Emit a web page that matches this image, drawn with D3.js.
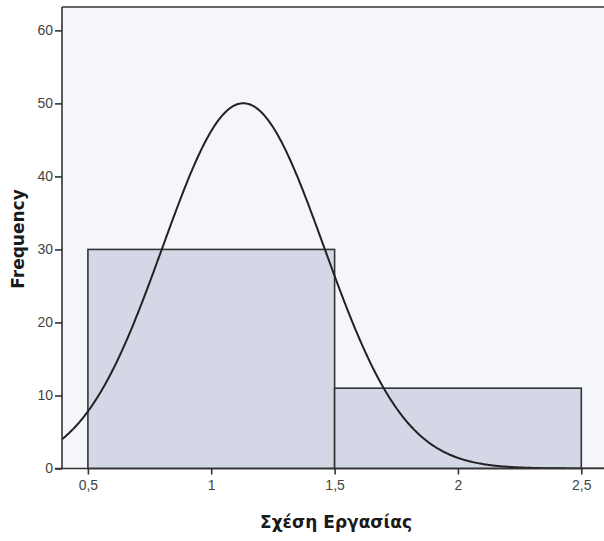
<!DOCTYPE html>
<html>
<head>
<meta charset="utf-8">
<script src="https://cdn.jsdelivr.net/npm/d3@7"></script>
<style>
  html, body { margin: 0; padding: 0; background: #ffffff; }
  svg { display: block; }
</style>
</head>
<body>
<script>
// Histogram bins (lower edge, upper edge) and their frequencies
const binStarts = [0.5, 1.5];
const binEnds = [1.5, 2.5];
const frequencies = [30, 11];

// Normal curve fitted to the sample
const sampleMean = 1.13;
const sampleSd = 0.327;
const sampleN = 41;
const binWidth = 1;

// Axis ticks
const xTicks = [0.5, 1, 1.5, 2, 2.5];
const xTickLabels = ["0,5", "1", "1,5", "2", "2,5"];
const yTicks = [0, 10, 20, 30, 40, 50, 60];

const W = 604, H = 541;
const plot = { left: 62, top: 7, right: 604, bottom: 468.5 };

const svg = d3.select("body").append("svg")
  .attr("width", W).attr("height", H);

const x = d3.scaleLinear().domain([0.395, 2.592]).range([plot.left, plot.right]);
const y = d3.scaleLinear().domain([0, 63.2]).range([plot.bottom, plot.top]);

// plot background
svg.append("rect")
  .attr("x", plot.left).attr("y", plot.top)
  .attr("width", plot.right - plot.left).attr("height", plot.bottom - plot.top)
  .attr("fill", "#f4f6fa");

svg.append("defs").append("clipPath").attr("id", "plotClip")
  .append("rect")
  .attr("x", plot.left).attr("y", plot.top)
  .attr("width", plot.right - plot.left).attr("height", plot.bottom - plot.top);

// bars
svg.append("g").selectAll("rect")
  .data(frequencies)
  .join("rect")
  .attr("x", (d, i) => x(binStarts[i]))
  .attr("y", d => y(d))
  .attr("width", (d, i) => x(binEnds[i]) - x(binStarts[i]))
  .attr("height", d => y(0) - y(d))
  .attr("fill", "#d3d7e6")
  .attr("stroke", "#333")
  .attr("stroke-width", 1.6);

// normal curve
const xs = d3.range(0.395, 2.6, 0.005);
const normal = v => sampleN * binWidth / (sampleSd * Math.sqrt(2 * Math.PI)) *
  Math.exp(-((v - sampleMean) ** 2) / (2 * sampleSd * sampleSd));
svg.append("path")
  .datum(xs)
  .attr("clip-path", "url(#plotClip)")
  .attr("fill", "none")
  .attr("stroke", "#222")
  .attr("stroke-width", 2)
  .attr("d", d3.line().x(d => x(d)).y(d => y(normal(d))));

// frame top edge
svg.append("line")
  .attr("x1", plot.left).attr("x2", plot.right)
  .attr("y1", plot.top).attr("y2", plot.top)
  .attr("stroke", "#333").attr("stroke-width", 1.6);

// y axis
const yAxis = svg.append("g")
  .attr("transform", `translate(${plot.left},0)`)
  .call(d3.axisLeft(y).tickValues(yTicks).tickSize(7).tickPadding(2));
yAxis.select(".domain").attr("d", `M0,${plot.top}V${plot.bottom}`);

// x axis
const xAxis = svg.append("g")
  .attr("transform", `translate(0,${plot.bottom})`)
  .call(d3.axisBottom(x).tickValues(xTicks)
    .tickFormat((d, i) => xTickLabels[i]).tickSize(6).tickPadding(6));
xAxis.select(".domain").attr("d", `M${plot.left - 7},0H${plot.right}`);

svg.selectAll(".domain").attr("stroke", "#333").attr("stroke-width", 1.6);
svg.selectAll(".tick line").attr("stroke", "#333").attr("stroke-width", 1.6);
svg.selectAll(".tick text")
  .attr("fill", "#444")
  .style("font-family", "'Liberation Sans', Arial, sans-serif")
  .style("font-size", "14px");

// axis titles
svg.append("text")
  .attr("x", 336).attr("y", 528)
  .attr("text-anchor", "middle")
  .style("font-family", "'DejaVu Sans', Verdana, sans-serif")
  .style("font-weight", "bold")
  .style("font-size", "17px")
  .attr("fill", "#1a1a1a")
  .text("Σχέση Εργασίας");

svg.append("text")
  .attr("transform", "translate(24,239) rotate(-90)")
  .attr("text-anchor", "middle")
  .style("font-family", "'DejaVu Sans', Verdana, sans-serif")
  .style("font-weight", "bold")
  .style("font-size", "17px")
  .attr("fill", "#1a1a1a")
  .text("Frequency");
</script>
</body>
</html>
